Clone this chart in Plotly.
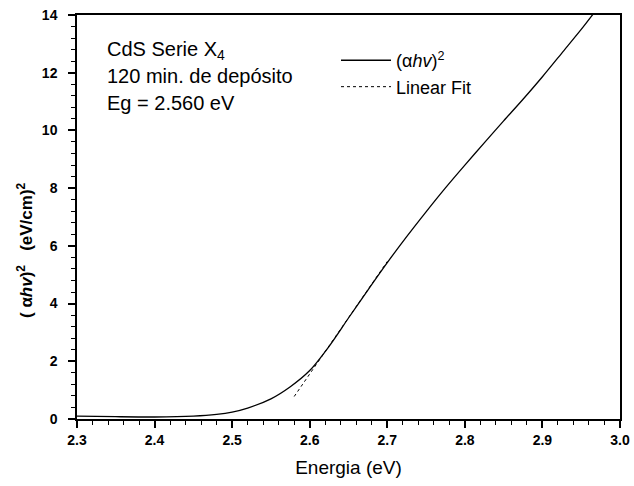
import plotly.graph_objects as go

# (alpha h v)^2 curve
energy = [2.30, 2.35, 2.40, 2.45, 2.48, 2.50, 2.52, 2.55, 2.575, 2.60, 2.625, 2.65,
          2.675, 2.70, 2.725, 2.75, 2.775, 2.80, 2.825, 2.85, 2.875, 2.90, 2.925,
          2.95, 2.965]
alpha_hv2 = [0.10, 0.08, 0.07, 0.10, 0.16, 0.24, 0.38, 0.70, 1.12, 1.68, 2.52, 3.50,
             4.47, 5.42, 6.32, 7.18, 8.01, 8.80, 9.57, 10.33, 11.08, 11.86, 12.68,
             13.50, 14.02]

# Linear fit segment
fit_x = [2.58, 2.70]
fit_y = [0.78, 5.46]

x_ticks = [2.3, 2.4, 2.5, 2.6, 2.7, 2.8, 2.9, 3.0]
x_labels = ["2.3", "2.4", "2.5", "2.6", "2.7", "2.8", "2.9", "3.0"]
y_ticks = [0, 2, 4, 6, 8, 10, 12, 14]

FONT = "Liberation Sans, Arial, sans-serif"

fig = go.Figure()
fig.add_trace(go.Scatter(x=energy, y=alpha_hv2, mode="lines",
                         line=dict(color="black", width=1.3, shape="spline", smoothing=0.8),
                         name="(α<i>hv</i>)<sup>2</sup>"))
fig.add_trace(go.Scatter(x=fit_x, y=fit_y, mode="lines",
                         line=dict(color="black", width=1, dash="dot"),
                         name="Linear Fit"))

fig.update_layout(
    width=634, height=486,
    margin=dict(l=77, r=14, t=15, b=67),
    paper_bgcolor="white", plot_bgcolor="white",
    font=dict(family=FONT, color="black"),
    showlegend=True,
    legend=dict(x=0.477, y=0.933, xanchor="left", yanchor="top",
                bgcolor="rgba(0,0,0,0)", font=dict(size=18),
                tracegroupgap=0, itemwidth=50),
    xaxis=dict(range=[2.3, 3.0], tickvals=x_ticks, ticktext=x_labels,
               ticks="outside", ticklen=7, tickwidth=1.5, tickcolor="black",
               minor=dict(dtick=0.02, ticks="outside", ticklen=4, tickcolor="black", tickwidth=1),
               showline=True, linecolor="black", linewidth=1.5, mirror=True,
               showgrid=False, zeroline=False, automargin=False,
               ticklabeloverflow="allow",
               tickfont=dict(size=14, family=FONT, weight="bold"),
               title=dict(text="Energia (eV)", font=dict(size=19), standoff=14)),
    yaxis=dict(range=[0, 14], tickvals=y_ticks,
               ticks="outside", ticklen=7, tickwidth=1.5, tickcolor="black",
               minor=dict(dtick=0.4, ticks="outside", ticklen=4, tickcolor="black", tickwidth=1),
               showline=True, linecolor="black", linewidth=1.5, mirror=True,
               showgrid=False, zeroline=False, automargin=False,
               ticklabelstandoff=8,
               tickfont=dict(size=14, family=FONT, weight="bold")),
)

# y-axis title placed as rotated text
fig.add_annotation(xref="paper", yref="paper", x=(25 - 77) / 543, y=(419 - 250) / 404,
                   xanchor="center", yanchor="middle", showarrow=False, textangle=-90,
                   text="<b>( α<i>hv</i>)<sup>2</sup>&nbsp;&nbsp;&nbsp;(eV/cm)<sup>2</sup></b>",
                   font=dict(size=17))

ann_x = (105 - 77) / 543
for txt, py in [("CdS Serie X<sub>4</sub>", 51), ("120 min. de depósito", 76),
                ("Eg = 2.560 eV", 103)]:
    fig.add_annotation(xref="paper", yref="paper", x=ann_x, y=(419 - py) / 404,
                       xanchor="left", yanchor="middle", showarrow=False,
                       text=txt, font=dict(size=20))

fig.write_html("out.html", config={"displayModeBar": False},
               post_script="document.body.style.margin='0';")
